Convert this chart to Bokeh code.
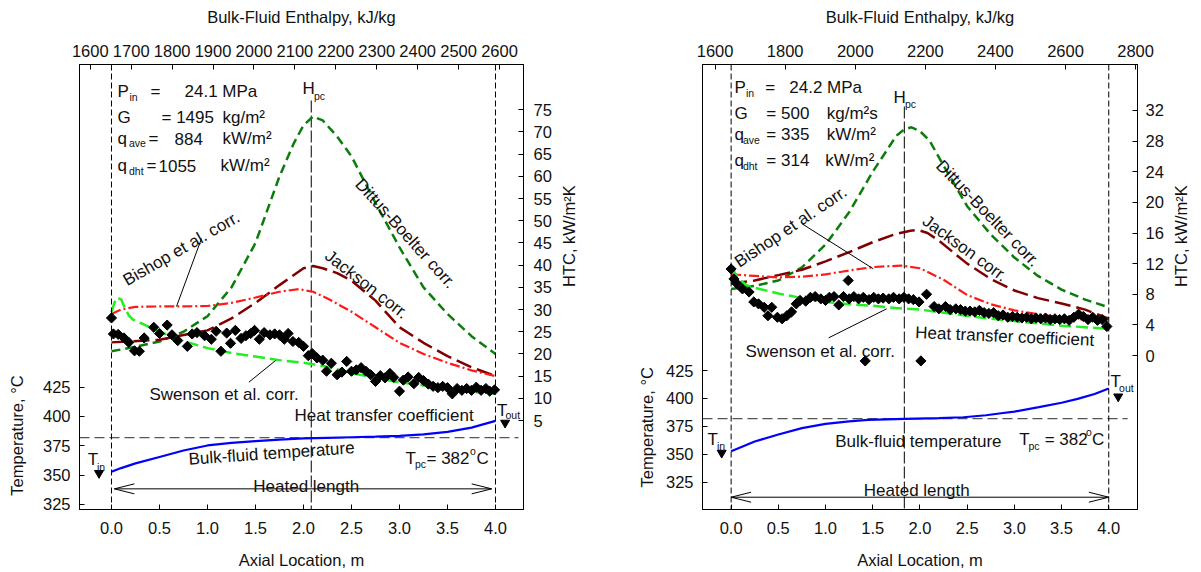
import math
from bokeh.plotting import figure
from bokeh.models import Range1d, LinearAxis, FixedTicker, PrintfTickFormatter, Span
from bokeh.layouts import row
from bokeh.embed import file_html
from bokeh.resources import INLINE
from bokeh.core.properties import value

FONT = "Liberation Sans"
FS = "16.5px"
AFS = "17px"
SUB = "10.5px"
INK = "#111111"
EMSP = "\u2003"

# ---------------- common ticks ----------------
AXIAL_TICKS = [0.0, 0.5, 1.0, 1.5, 2.0, 2.5, 3.0, 3.5, 4.0]
TEMP_TICKS = [325, 350, 375, 400, 425]
HPC_ENTHALPY = 2140
T_PC = 382

# ---------------- left chart (G = 1495) ----------------
L_HTC_TICKS = [5, 10, 15, 20, 25, 30, 35, 40, 45, 50, 55, 60, 65, 70, 75]
L_ENTH_TICKS = [1600, 1700, 1800, 1900, 2000, 2100, 2200, 2300, 2400, 2500, 2600]

L_exp_x = [0.0, 0.02, 0.07, 0.13, 0.18, 0.24, 0.29, 0.34, 0.44, 0.5, 0.58, 0.63, 0.69, 0.79, 0.84,
           0.89, 0.97, 1.04, 1.09, 1.14, 1.2, 1.24, 1.29, 1.35, 1.4, 1.45, 1.49, 1.54, 1.59, 1.65,
           1.7, 1.75, 1.8, 1.84, 1.89, 1.95, 2.0, 2.05, 2.09, 2.14, 2.2, 2.24, 2.29, 2.35, 2.4,
           2.45, 2.5, 2.55, 2.6, 2.65, 2.7, 2.75, 2.8, 2.85, 2.9, 2.94, 3.0, 3.04, 3.09, 3.15,
           3.2, 3.25, 3.3, 3.35, 3.4, 3.45, 3.5, 3.55, 3.6, 3.65, 3.7, 3.75, 3.8, 3.85, 3.9, 3.94, 3.99]
L_exp_h = [28.1, 24.5, 24.4, 23.6, 22.6, 20.7, 20.6, 23.6, 26.0, 24.6, 26.5, 24.3, 23.0, 21.7, 24.5,
           24.8, 24.1, 23.3, 25.1, 20.6, 24.7, 22.4, 25.3, 23.5, 24.1, 24.6, 25.3, 23.3, 24.8, 24.3,
           24.5, 24.3, 23.3, 24.6, 22.8, 22.6, 21.7, 19.6, 20.1, 19.1, 18.6, 16.1, 17.9, 15.3, 15.9,
           18.3, 16.1, 16.4, 16.9, 16.1, 15.3, 13.8, 15.1, 14.6, 15.6, 14.7, 11.6, 14.1, 14.8, 13.3,
           14.7, 14.0, 13.2, 12.7, 12.4, 12.7, 12.4, 11.0, 12.2, 11.8, 12.2, 11.8, 12.5, 11.8, 12.2, 11.6, 11.9]

L_db_x = [0, 0.25, 0.5, 0.75, 1.0, 1.25, 1.5, 1.75, 1.9, 2.0, 2.1, 2.2, 2.35, 2.5, 2.75, 3.0, 3.25, 3.5, 3.75, 4.0]
L_db_h = [20.6, 21.6, 22.8, 25.0, 28.5, 35.0, 45.0, 60.0, 67.5, 71.5, 73.5, 72.6, 69.0, 64.5, 54.0, 44.0, 35.0, 29.0, 24.0, 20.0]

L_jk_x = [0, 0.5, 1.0, 1.25, 1.5, 1.75, 1.9, 2.0, 2.1, 2.2, 2.35, 2.5, 2.75, 3.0, 3.25, 3.5, 3.75, 4.0]
L_jk_h = [22.6, 23.2, 25.3, 28.0, 31.5, 35.5, 37.8, 39.3, 39.8, 39.3, 38.2, 36.5, 32.0, 26.0, 22.5, 19.5, 17.0, 15.0]

L_bs_x = [0, 0.1, 0.25, 0.5, 0.75, 1.0, 1.25, 1.5, 1.75, 1.95, 2.1, 2.25, 2.5, 2.75, 3.0, 3.25, 3.5, 3.75, 4.0]
L_bs_h = [29.0, 30.0, 30.6, 30.7, 30.7, 30.8, 31.5, 32.7, 34.0, 34.6, 34.0, 32.5, 29.5, 26.0, 22.5, 20.0, 18.0, 16.3, 15.0]

L_sw_x = [0, 0.03, 0.06, 0.1, 0.14, 0.18, 0.22, 0.32, 0.5, 0.75, 1.0, 1.25, 1.5, 1.75, 2.0, 2.25,
          2.5, 2.75, 3.0, 3.25, 3.5, 3.75, 4.0]
L_sw_h = [29.4, 31.5, 32.7, 32.3, 30.3, 28.7, 27.8, 26.8, 25.0, 22.9, 21.3, 20.2, 19.4, 18.6, 18.0, 17.1,
          15.7, 14.6, 13.6, 12.9, 12.1, 11.5, 11.0]

L_tb_x = [0, 0.1, 0.25, 0.5, 0.75, 1.0, 1.25, 1.5, 1.75, 2.0, 2.25, 2.5, 2.75, 3.0, 3.25, 3.5, 3.75, 4.0]
L_tb_t = [352.8, 356.0, 360.0, 365.5, 371.0, 375.3, 377.5, 379.0, 380.3, 381.3, 381.8, 382.3, 382.8,
          383.5, 384.8, 386.9, 390.5, 396.3]

L_tin = (-0.13, 351.7)
L_tout = (4.10, 394.6)

# ---------------- right chart (G = 500) ----------------
R_HTC_TICKS = [0, 4, 8, 12, 16, 20, 24, 28, 32]
R_ENTH_TICKS = [1600, 1800, 2000, 2200, 2400, 2600, 2800]

R_exp_x = [0.0, 0.03, 0.06, 0.12, 0.19, 0.24, 0.29, 0.35, 0.39, 0.43, 0.49, 0.54, 0.59, 0.64, 0.69,
           0.73, 0.79, 0.84, 0.89, 0.95, 1.0, 1.04, 1.09, 1.14, 1.19, 1.24, 1.25, 1.30, 1.35, 1.40,
           1.42, 1.46, 1.51, 1.56, 1.61, 1.67, 1.72, 1.78, 1.83, 1.88, 1.93, 1.99, 2.01, 2.07, 2.15,
           2.20, 2.27, 2.32, 2.38, 2.43, 2.48, 2.53, 2.58, 2.63, 2.68, 2.73, 2.78, 2.83, 2.88, 2.93,
           2.98, 3.03, 3.08, 3.13, 3.18, 3.23, 3.28, 3.33, 3.38, 3.43, 3.48, 3.53, 3.58, 3.63, 3.68,
           3.73, 3.78, 3.83, 3.88, 3.93, 3.98]
R_exp_h = [11.3, 10.0, 9.4, 8.7, 8.3, 7.0, 6.75, 6.3, 5.2, 6.3, 5.0, 4.8, 5.2, 5.7, 6.75,
           7.2, 7.1, 7.6, 7.7, 7.4, 7.2, 7.6, 7.7, 6.6, 7.7, 9.8, 7.4, 7.7, 7.4, 7.6,
           -0.7, 7.3, 7.6, 7.4, 7.5, 7.4, 7.6, 7.4, 7.6, 7.4, 7.3, 7.0, -0.7, 8.0, 6.4,
           6.1, 6.4, 6.0, 6.1, 6.0, 5.8, 5.8, 5.7, 5.9, 5.6, 5.5, 5.6, 5.2, 5.3, 5.0,
           5.1, 5.0, 4.9, 5.0, 4.8, 4.9, 4.8, 4.9, 4.7, 4.8, 4.7, 4.8, 4.6, 5.0, 5.4,
           5.1, 4.7, 5.0, 4.6, 4.7, 3.8]

R_db_x = [0, 0.25, 0.5, 0.75, 1.0, 1.25, 1.5, 1.75, 1.83, 1.91, 2.0, 2.1, 2.25, 2.5, 2.75, 3.0, 3.25, 3.5, 3.75, 4.0]
R_db_h = [8.7, 9.1, 9.8, 11.5, 14.5, 18.7, 24.0, 28.7, 29.5, 29.8, 29.3, 28.1, 24.8, 19.5, 15.8, 12.8, 10.4, 8.6, 7.3, 6.3]

R_jk_x = [0, 0.25, 0.5, 0.75, 1.0, 1.25, 1.5, 1.75, 1.9, 1.98, 2.08, 2.2, 2.5, 2.75, 3.0, 3.25, 3.5, 3.75, 4.0]
R_jk_h = [9.4, 9.8, 10.5, 11.2, 12.3, 13.5, 14.8, 15.9, 16.3, 16.4, 16.0, 15.0, 12.0, 10.0, 8.5, 7.5, 6.8, 6.0, 4.8]

R_bs_x = [0, 0.25, 0.5, 0.75, 1.0, 1.25, 1.5, 1.8, 2.0, 2.25, 2.5, 2.75, 3.0, 3.25, 3.5, 3.75, 4.0]
R_bs_h = [10.6, 10.4, 10.2, 10.3, 10.6, 11.1, 11.55, 11.75, 11.4, 9.9, 7.9, 6.7, 5.9, 5.4, 5.0, 4.7, 4.5]

R_sw_x = [0, 0.05, 0.1, 0.15, 0.2, 0.3, 0.5, 0.75, 1.0, 1.25, 1.5, 1.75, 2.0, 2.25, 2.5, 2.75,
          3.0, 3.25, 3.5, 3.75, 4.0]
R_sw_h = [11.6, 10.6, 9.8, 9.3, 9.0, 8.7, 8.1, 7.5, 7.0, 6.7, 6.5, 6.2, 6.0, 5.6, 5.2, 4.8,
          4.5, 4.2, 3.9, 3.7, 3.5]

R_tb_x = [0, 0.25, 0.5, 0.75, 1.0, 1.25, 1.45, 1.84, 2.2, 2.46, 2.7, 2.86, 3.0, 3.26, 3.5, 3.67, 3.85, 4.0]
R_tb_t = [352.8, 361.5, 367.7, 373.5, 377.3, 379.5, 380.9, 381.8, 382.4, 383.2, 385.0, 386.8, 388.2,
          392.2, 396.2, 399.6, 404.0, 409.0]

R_tin = (-0.10, 351.3)
R_tout = (4.10, 401.7)


def style_axis(ax, label_standoff, title_standoff):
    ax.major_tick_in = 5
    ax.major_tick_out = 0
    ax.minor_tick_line_color = None
    ax.axis_line_color = "black"
    ax.major_tick_line_color = "black"
    ax.major_label_text_font = FONT
    ax.major_label_text_font_size = FS
    ax.major_label_text_color = INK
    ax.axis_label_text_font = FONT
    ax.axis_label_text_font_size = FS
    ax.axis_label_text_font_style = "normal"
    ax.axis_label_text_color = INK
    ax.major_label_standoff = label_standoff
    ax.axis_label_standoff = title_standoff


def make_chart(page_x0, width, fl, fr, xr, hr, tr, er, htc_ticks, enth_ticks, std):
    ft, fb = 64, 509
    p = figure(width=width, height=572, x_range=Range1d(*xr), y_range=Range1d(*hr),
               x_axis_location=None, y_axis_location=None, output_backend="svg",
               toolbar_location=None, min_border_left=fl - page_x0,
               min_border_right=page_x0 + width - fr, min_border_top=ft, min_border_bottom=572 - fb)
    p.extra_y_ranges = {"temp": Range1d(*tr)}
    p.extra_x_ranges = {"enth": Range1d(*er)}
    p.outline_line_color = "black"
    p.outline_line_alpha = 1.0
    p.outline_line_width = 1
    p.xgrid.visible = False
    p.ygrid.visible = False

    bottom = LinearAxis(ticker=FixedTicker(ticks=AXIAL_TICKS), formatter=PrintfTickFormatter(format="%.1f"),
                        axis_label="Axial Location, m")
    style_axis(bottom, 12, 14)
    p.add_layout(bottom, "below")
    # the temperature title sits low, next to its ticks: pad its upper end with em spaces
    left = LinearAxis(y_range_name="temp", ticker=FixedTicker(ticks=TEMP_TICKS),
                      axis_label="Temperature, °C" + EMSP * std["tpad"])
    style_axis(left, 9, std["left"])
    p.add_layout(left, "left")
    right = LinearAxis(ticker=FixedTicker(ticks=htc_ticks), axis_label="HTC, kW/m²K")
    style_axis(right, std["rlab"], 14)
    if "axis_label_orientation" in right.properties():
        right.axis_label_orientation = math.pi / 2
    p.add_layout(right, "right")
    top = LinearAxis(x_range_name="enth", ticker=FixedTicker(ticks=enth_ticks), axis_label="Bulk-Fluid Enthalpy, kJ/kg")
    style_axis(top, 8, 16)
    p.add_layout(top, "above")

    def conv(px, py):
        x = xr[0] + (px - fl) * (xr[1] - xr[0]) / (fr - fl)
        y = hr[1] - (py - ft) * (hr[1] - hr[0]) / (fb - ft)
        return x, y

    return p, conv


def txt(p, conv, px, py, s, size=AFS, angle=0.0, align="left", baseline="alphabetic"):
    x, y = conv(px, py)
    p.text(x=[x], y=[y], text=[s], angle=math.radians(angle), text_font=value(FONT),
           text_font_size=size, text_align=align, text_baseline=baseline, text_color=INK)


def pointer(p, conv, a, b):
    x0, y0 = conv(*a)
    x1, y1 = conv(*b)
    p.line([x0, x1], [y0, y1], line_color="black", line_width=1)


def draw_common(p, conv, xr, hr, tr, data, hpc_top, tpc_end, arrow, fr, fl):
    exp_x, exp_h, db, jk, bs, sw, tb, tin, tout = data
    for loc in (0.0, 4.0):
        p.add_layout(Span(location=loc, dimension="height", line_color="black", line_width=1, line_dash="6 3"))
    _, ytop = conv(0, hpc_top)
    p.segment(x0=[HPC_ENTHALPY], y0=[ytop], x1=[HPC_ENTHALPY], y1=[hr[0]], x_range_name="enth",
              line_color="black", line_width=1, line_dash="12 3")
    p.segment(x0=[xr[0]], y0=[T_PC], x1=[tpc_end], y1=[T_PC], y_range_name="temp",
              line_color="#555555", line_width=1.3, line_dash="10 5")
    p.line(db[0], db[1], line_color="#0b7d0b", line_width=2.5, line_dash="9 5")
    p.line(jk[0], jk[1], line_color="#7f0000", line_width=2.5, line_dash="16 6")
    p.line(bs[0], bs[1], line_color="#ff1a1a", line_width=2.2, line_dash="10 3 2 3")
    p.line(sw[0], sw[1], line_color="#22ee22", line_width=2.5, line_dash="12 5")
    p.scatter(exp_x, exp_h, marker="square", angle=math.pi / 4, size=7.2,
              fill_color="black", line_color="black")
    p.line(tb[0], tb[1], y_range_name="temp", line_color="#0000ff", line_width=2.2)
    p.scatter([tin[0], tout[0]], [tin[1], tout[1]], y_range_name="temp", marker="inverted_triangle",
              size=9, fill_color="black", line_color="black")
    xa, xb, ta = arrow
    p.line([xa, xb], [ta, ta], y_range_name="temp", line_color="black", line_width=1)
    dx = 20 * (xr[1] - xr[0]) / (fr - fl)
    dt = 5 * (tr[1] - tr[0]) / 445.0
    p.multi_line([[xa + dx, xa, xa + dx], [xb - dx, xb, xb - dx]],
                 [[ta + dt, ta, ta - dt], [ta + dt, ta, ta - dt]],
                 y_range_name="temp", line_color="black", line_width=1)


# ================= LEFT =================
L_xr = (-0.3333, 4.2917)
L_hr = (-15.05, 85.2)
L_tr = (320.7, 700.1)
L_er = (1573.6, 2658.7)
p1, c1 = make_chart(0, 600, 79, 523, L_xr, L_hr, L_tr, L_er, L_HTC_TICKS, L_ENTH_TICKS,
                    {"left": 14, "rlab": 10, "tpad": 18})
draw_common(p1, c1, L_xr, L_hr, L_tr,
            (L_exp_x, L_exp_h, (L_db_x, L_db_h), (L_jk_x, L_jk_h), (L_bs_x, L_bs_h), (L_sw_x, L_sw_h),
             (L_tb_x, L_tb_t), L_tin, L_tout),
            100, 4.24, (0.03, 3.96, 338.3), 523, 79)

txt(p1, c1, 117, 91, "P"); txt(p1, c1, 129, 96, "in", SUB)
txt(p1, c1, 150, 91, "="); txt(p1, c1, 184, 91, "24.1 MPa")
txt(p1, c1, 117, 116.7, "G"); txt(p1, c1, 161, 116.7, "= 1495"); txt(p1, c1, 222, 116.7, "kg/m²")
txt(p1, c1, 117, 138, "q"); txt(p1, c1, 128.5, 142.5, "ave", SUB)
txt(p1, c1, 148, 138, "="); txt(p1, c1, 174, 138, "884"); txt(p1, c1, 222, 138, "kW/m²")
txt(p1, c1, 117, 165, "q"); txt(p1, c1, 128.5, 170, "dht", SUB)
txt(p1, c1, 146, 165, "="); txt(p1, c1, 158, 165, "1055"); txt(p1, c1, 220, 165, "kW/m²")
txt(p1, c1, 302, 88, "H"); txt(p1, c1, 313.5, 95, "pc", SUB)
txt(p1, c1, 124, 281, "Bishop et al. corr.", angle=30)
pointer(p1, c1, (201, 238), (176, 306))
txt(p1, c1, 405, 233, "Dittus-Boelter corr.", angle=-48, align="center", baseline="middle")
txt(p1, c1, 366, 284, "Jackson corr.", angle=-38, align="center", baseline="middle")
txt(p1, c1, 149, 394, "Swenson et al. corr.")
pointer(p1, c1, (248.4, 381.7), (275.1, 360))
txt(p1, c1, 294, 414.5, "Heat transfer coefficient")
txt(p1, c1, 271, 453, "Bulk-fluid temperature", angle=4, align="center", baseline="middle")
txt(p1, c1, 405, 458, "T"); txt(p1, c1, 414.5, 463.5, "pc", SUB)
txt(p1, c1, 426, 458, "= 382"); txt(p1, c1, 469.5, 450, "o", SUB); txt(p1, c1, 476, 458, "C")
txt(p1, c1, 87.3, 459, "T"); txt(p1, c1, 96.5, 466, "in", SUB)
txt(p1, c1, 496.5, 410, "T"); txt(p1, c1, 505, 414.5, "out", SUB)
txt(p1, c1, 305.7, 486, "Heated length", align="center")

# ================= RIGHT =================
R_xr = (-0.3033, 4.3044)
R_hr = (-20.1, 38.0)
R_tr = (300.6, 699.0)
R_er = (1564.1, 2805.4)
p2, c2 = make_chart(600, 601, 702, 1138, R_xr, R_hr, R_tr, R_er, R_HTC_TICKS, R_ENTH_TICKS,
                    {"left": 7, "rlab": 8, "tpad": 17})
draw_common(p2, c2, R_xr, R_hr, R_tr,
            (R_exp_x, R_exp_h, (R_db_x, R_db_h), (R_jk_x, R_jk_h), (R_bs_x, R_bs_h), (R_sw_x, R_sw_h),
             (R_tb_x, R_tb_t), R_tin, R_tout),
            106, 4.2, (0.0, 4.0, 311.6), 1138, 702)

txt(p2, c2, 734, 86.7, "P"); txt(p2, c2, 745.5, 92, "in", SUB)
txt(p2, c2, 765, 86.7, "="); txt(p2, c2, 789, 86.7, "24.2 MPa")
txt(p2, c2, 734, 113.3, "G"); txt(p2, c2, 766, 113.3, "= 500"); txt(p2, c2, 826.5, 113.3, "kg/m²s")
txt(p2, c2, 734, 134, "q"); txt(p2, c2, 742.5, 139, "ave", SUB)
txt(p2, c2, 766, 134, "= 335"); txt(p2, c2, 826.5, 134, "kW/m²")
txt(p2, c2, 734, 160, "q"); txt(p2, c2, 742.5, 165, "dht", SUB)
txt(p2, c2, 766, 160, "= 314"); txt(p2, c2, 825, 160, "kW/m²")
txt(p2, c2, 893.5, 96.7, "H"); txt(p2, c2, 905, 103, "pc", SUB)
txt(p2, c2, 736, 263, "Bishop et al. corr.", angle=34)
pointer(p2, c2, (801.8, 223.3), (873.2, 268.3))
txt(p2, c2, 988, 213, "Dittus-Boelter corr.", angle=-46, align="center", baseline="middle")
txt(p2, c2, 965, 248, "Jackson corr.", angle=-36, align="center", baseline="middle")
txt(p2, c2, 745.2, 351, "Swenson et al. corr.")
pointer(p2, c2, (828.5, 337.3), (886.6, 308.3))
txt(p2, c2, 1005, 336, "Heat transfer coefficient", angle=-2.5, align="center", baseline="middle")
txt(p2, c2, 835, 441, "Bulk-fluid temperature")
txt(p2, c2, 1019.5, 439, "T"); txt(p2, c2, 1028.7, 445, "pc", SUB)
txt(p2, c2, 1045, 439, "= 382"); txt(p2, c2, 1086.5, 431, "o", SUB); txt(p2, c2, 1092.5, 439, "C")
txt(p2, c2, 707, 439, "T"); txt(p2, c2, 716.5, 445.5, "in", SUB)
txt(p2, c2, 1111, 381, "T"); txt(p2, c2, 1119.5, 387, "out", SUB)
txt(p2, c2, 916.7, 490, "Heated length", align="center")

layout = row(p1, p2)
open("out.html", "w").write(file_html(layout, INLINE))
